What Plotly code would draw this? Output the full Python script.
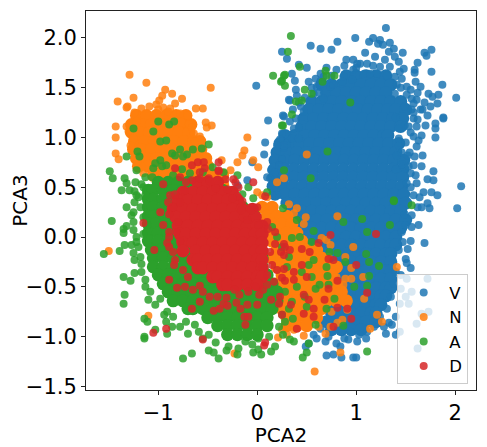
import plotly.graph_objects as go

NAMES = ["V", "N", "A", "D"]
COLORS = ["#1f77b4", "#ff7f0e", "#2ca02c", "#d62728"]

# dense middle of each cloud, one x list per y row
V_CORE_Y = [1.62, 1.53, 1.45, 1.36, 1.28, 1.19, 1.11, 1.02, 0.94, 0.85, 0.77, 0.68, 0.60, 0.51, 0.43, 0.34,
            0.26, 0.17, 0.09, 0.0, -0.08, -0.17, -0.25, -0.34, -0.42, -0.51, -0.59, -0.68, -0.76, -0.85, -0.93]
V_CORE_X = [
    [0.90, 1.00, 1.10, 1.20, 1.30],
    [0.65, 0.75, 0.85, 0.95, 1.05, 1.15, 1.25, 1.35],
    [0.70, 0.80, 0.90, 1.00, 1.10, 1.20, 1.30],
    [0.55, 0.65, 0.75, 0.85, 0.95, 1.05, 1.15, 1.25, 1.35, 1.45],
    [0.52, 0.62, 0.72, 0.82, 0.92, 1.02, 1.12, 1.22, 1.32, 1.40, 1.50],
    [0.47, 0.57, 0.67, 0.77, 0.87, 0.97, 1.07, 1.17, 1.27, 1.37, 1.47],
    [0.45, 0.55, 0.65, 0.75, 0.85, 0.95, 1.05, 1.15, 1.25, 1.35, 1.45],
    [0.28, 0.38, 0.48, 0.58, 0.68, 0.78, 0.88, 0.98, 1.08, 1.18, 1.28, 1.32],
    [0.23, 0.33, 0.43, 0.53, 0.63, 0.73, 0.83, 0.93, 1.03, 1.13, 1.23, 1.33, 1.43],
    [0.20, 0.30, 0.40, 0.50, 0.60, 0.70, 0.80, 0.90, 1.00, 1.10, 1.20, 1.30, 1.40],
    [0.18, 0.28, 0.38, 0.48, 0.58, 0.68, 0.78, 0.88, 0.98, 1.08, 1.18, 1.28, 1.38, 1.48],
    [0.17, 0.27, 0.37, 0.47, 0.57, 0.67, 0.77, 0.87, 0.97, 1.07, 1.17, 1.27, 1.37, 1.47],
    [0.17, 0.27, 0.37, 0.47, 0.57, 0.67, 0.77, 0.87, 0.97, 1.07, 1.17, 1.27, 1.37, 1.47],
    [0.16, 0.26, 0.36, 0.46, 0.56, 0.66, 0.76, 0.86, 0.96, 1.06, 1.16, 1.26, 1.36, 1.46],
    [0.18, 0.28, 0.38, 0.48, 0.58, 0.68, 0.78, 0.88, 0.98, 1.08, 1.18, 1.28, 1.38, 1.48],
    [0.30, 0.40, 0.50, 0.60, 0.70, 0.80, 0.90, 1.00, 1.10, 1.20, 1.30, 1.40, 1.50],
    [0.35, 0.45, 0.55, 0.65, 0.75, 0.85, 0.95, 1.05, 1.15, 1.25, 1.35, 1.45],
    [0.40, 0.50, 0.60, 0.70, 0.80, 0.90, 1.00, 1.10, 1.20, 1.30, 1.40, 1.50],
    [0.45, 0.55, 0.65, 0.75, 0.85, 0.95, 1.05, 1.15, 1.25, 1.35, 1.45],
    [0.50, 0.60, 0.70, 0.80, 0.90, 1.00, 1.10, 1.20, 1.30, 1.40],
    [0.55, 0.65, 0.75, 0.85, 0.95, 1.05, 1.15, 1.25, 1.35, 1.40],
    [0.60, 0.70, 0.80, 0.90, 1.00, 1.10, 1.20, 1.30, 1.35],
    [0.65, 0.75, 0.85, 0.95, 1.05, 1.15, 1.25, 1.35],
    [0.70, 0.80, 0.90, 1.00, 1.10, 1.20, 1.30, 1.35],
    [0.75, 0.85, 0.95, 1.05, 1.15, 1.25, 1.35],
    [0.80, 0.90, 1.00, 1.10, 1.20, 1.30, 1.35],
    [0.75, 0.85, 0.95, 1.05, 1.15, 1.25, 1.30],
    [0.70, 0.80, 0.90, 1.00, 1.10, 1.20, 1.25],
    [0.75, 0.85, 0.95, 1.05, 1.15, 1.20],
    [0.70, 0.80, 0.90, 1.00, 1.10, 1.20],
    [0.75, 0.85, 0.95, 1.05],
]

N_CORE_Y = [1.22, 1.13, 1.05, 0.96, 0.88, 0.79, 0.71, 0.62, 0.53,
            0.30, 0.21, 0.13, 0.04, -0.04, -0.13, -0.21, -0.30, -0.38, -0.47, -0.55, -0.64, -0.72, -0.81, -0.89]
N_CORE_X = [
    [-1.22, -1.12, -1.02, -0.92, -0.82, -0.72],
    [-1.27, -1.17, -1.07, -0.97, -0.87, -0.77, -0.67],
    [-1.27, -1.19, -1.09, -0.99, -0.89, -0.79, -0.69],
    [-1.24, -1.14, -1.04, -0.94, -0.84, -0.74, -0.64, -0.58],
    [-1.25, -1.17, -1.07, -0.97, -0.87, -0.77, -0.67, -0.57],
    [-1.22, -1.12, -1.02, -0.92, -0.82, -0.72, -0.62, -0.52],
    [-1.20, -1.10, -1.00, -0.90, -0.80, -0.70, -0.60, -0.50],
    [-1.05, -0.95, -0.85, -0.75, -0.65, -0.55, -0.45, -0.35],
    [-0.95, -0.85, -0.75, -0.65, -0.55, -0.45, -0.35],
    [0.05, 0.15],
    [0.10, 0.20, 0.30],
    [0.05, 0.15, 0.25, 0.35],
    [0.10, 0.20, 0.30, 0.40],
    [0.15, 0.25, 0.35, 0.45],
    [0.20, 0.30, 0.40, 0.50, 0.60],
    [0.15, 0.25, 0.35, 0.45, 0.55, 0.65],
    [0.20, 0.30, 0.40, 0.50, 0.60, 0.70, 0.80],
    [0.25, 0.35, 0.45, 0.55, 0.65, 0.75],
    [0.20, 0.30, 0.40, 0.50, 0.60, 0.70, 0.80],
    [0.25, 0.35, 0.45, 0.55, 0.65, 0.75, 0.85],
    [0.30, 0.40, 0.50, 0.60, 0.70, 0.80, 0.90],
    [0.25, 0.35, 0.45, 0.55, 0.65],
    [0.30, 0.40, 0.50, 0.60],
    [0.30, 0.40, 0.50],
]

A_CORE_Y = [0.55, 0.47, 0.38, 0.30, 0.21, 0.13, 0.04, -0.04, -0.13, -0.21, -0.30, -0.38, -0.47, -0.55,
            -0.64, -0.72, -0.81, -0.89, -0.98]
A_CORE_X = [
    [-1.00, -0.90, -0.80, -0.70, -0.60, -0.50],
    [-1.10, -1.05, -0.95, -0.85, -0.75, -0.65, -0.55, -0.45, -0.35],
    [-1.10, -1.05, -0.95, -0.85, -0.75, -0.65, -0.55, -0.45, -0.35, -0.25],
    [-1.10, -1.05, -0.95, -0.85, -0.75, -0.65, -0.55, -0.45, -0.35, -0.25, -0.15],
    [-1.10, -1.03, -0.93, -0.83, -0.73, -0.63, -0.53, -0.43, -0.33, -0.23, -0.13, -0.03],
    [-1.10, -1.03, -0.93, -0.83, -0.73, -0.63, -0.53, -0.43, -0.33, -0.23, -0.13, -0.03],
    [-1.10, -1.00, -0.90, -0.80, -0.70, -0.60, -0.50, -0.40, -0.30, -0.20, -0.10, 0.0],
    [-1.10, -1.00, -0.90, -0.80, -0.70, -0.60, -0.50, -0.40, -0.30, -0.20, -0.10, 0.0],
    [-1.07, -0.97, -0.87, -0.77, -0.67, -0.57, -0.47, -0.37, -0.27, -0.17, -0.07, 0.03],
    [-1.05, -0.95, -0.85, -0.75, -0.65, -0.55, -0.45, -0.35, -0.25, -0.15, -0.05, 0.05],
    [-1.05, -0.95, -0.85, -0.75, -0.65, -0.55, -0.45, -0.35, -0.25, -0.15, -0.05, 0.05],
    [-1.00, -0.90, -0.80, -0.70, -0.60, -0.50, -0.40, -0.30, -0.20, -0.10, 0.0, 0.10],
    [-0.95, -0.85, -0.75, -0.65, -0.55, -0.45, -0.35, -0.25, -0.15, -0.05, 0.05, 0.15],
    [-0.90, -0.80, -0.70, -0.60, -0.50, -0.40, -0.30, -0.20, -0.10, 0.0, 0.10, 0.20],
    [-0.85, -0.75, -0.65, -0.55, -0.45, -0.35, -0.25, -0.15, -0.05, 0.05, 0.15, 0.20],
    [-0.70, -0.65, -0.55, -0.45, -0.35, -0.25, -0.15, -0.05, 0.05, 0.15],
    [-0.50, -0.40, -0.30, -0.20, -0.10, 0.0, 0.10],
    [-0.40, -0.30, -0.20, -0.10, 0.0, 0.10],
    [-0.30, -0.20, -0.10, 0.0],
]

D_CORE_Y = [0.55, 0.45, 0.37, 0.28, 0.20, 0.11, 0.03, -0.06, -0.14, -0.23, -0.31, -0.40, -0.48]
D_CORE_X = [
    [-0.60, -0.50, -0.40],
    [-0.75, -0.65, -0.55, -0.45, -0.35, -0.25],
    [-0.80, -0.70, -0.60, -0.50, -0.40, -0.30, -0.20],
    [-0.85, -0.75, -0.65, -0.55, -0.45, -0.35, -0.25, -0.15, -0.05],
    [-0.82, -0.72, -0.62, -0.52, -0.42, -0.32, -0.22, -0.12, -0.02],
    [-0.80, -0.70, -0.60, -0.50, -0.40, -0.30, -0.20, -0.10, 0.0, 0.05],
    [-0.78, -0.72, -0.62, -0.52, -0.42, -0.32, -0.22, -0.12, -0.02, 0.05],
    [-0.75, -0.65, -0.55, -0.45, -0.35, -0.25, -0.15, -0.05, 0.05],
    [-0.75, -0.62, -0.52, -0.42, -0.32, -0.22, -0.12, -0.02, 0.05],
    [-0.65, -0.60, -0.50, -0.40, -0.30, -0.20, -0.10, 0.0, 0.05],
    [-0.60, -0.55, -0.45, -0.35, -0.25, -0.15, -0.05, 0.05],
    [-0.45, -0.40, -0.30, -0.20, -0.10, 0.0, 0.05],
    [-0.35, -0.30, -0.20, -0.10, 0.0],
]

V_POINTS = [
    (1.30, 2.10), (0.99, 2.00), (0.81, 1.96), (0.54, 1.92), (0.64, 1.89), (0.75, 1.88), (0.25, 1.86), (0.30, 1.79),
    (1.17, 2.00), (1.13, 1.96), (1.24, 1.98), (1.34, 1.95), (1.09, 1.85), (1.47, 1.85), (1.69, 1.85), (1.76, 1.88),
    (1.71, 1.82), (1.62, 1.75), (1.59, 1.68), (1.59, 1.65), (1.76, 1.66), (1.87, 1.53), (2.01, 1.40), (1.60, 1.56),
    (1.65, 1.51), (1.73, 1.44), (1.83, 1.43), (1.77, 1.41), (1.69, 1.35), (1.82, 1.34), (1.75, 1.31), (1.67, 1.28),
    (1.72, 1.22), (1.88, 1.20), (1.88, 1.19), (1.80, 1.14), (1.80, 1.09), (1.70, 1.12), (1.58, 1.01), (1.66, 1.02),
    (1.80, 1.00), (1.63, 0.97), (1.61, 0.91), (1.54, 0.85), (1.67, 0.82), (1.59, 0.81), (1.66, 0.71), (1.78, 0.66),
    (1.72, 0.58), (1.78, 0.57), (2.06, 0.51), (1.68, 0.45), (1.76, 0.45), (1.82, 0.42), (1.64, 0.40), (1.61, 0.54),
    (1.60, 0.62), (1.55, 0.64), (1.51, 0.54), (1.49, 0.69), (0.35, 1.64), (0.38, 1.57), (0.50, 1.70), (0.42, 1.73),
    (0.39, 1.48), (0.32, 1.38), (0.27, 1.21), (0.39, 1.19), (0.37, 1.09), (0.42, 1.10), (0.30, 1.03), (0.52, 1.56),
    (0.64, 1.64), (0.80, 1.68), (0.88, 1.72), (0.90, 1.78), (0.97, 1.78), (1.01, 1.74), (0.97, 1.68), (0.87, 1.61),
    (0.60, 1.51), (0.74, 1.51), (1.22, 1.94), (1.27, 1.93), (1.38, 1.89), (1.33, 1.86), (1.39, 1.81), (1.29, 1.78),
    (1.43, 1.76), (1.19, 1.81), (1.04, 1.74), (1.11, 1.74), (1.17, 1.72), (1.24, 1.71), (1.34, 1.71), (1.44, 1.66),
    (1.48, 1.69), (1.08, 1.64), (1.14, 1.64), (1.21, 1.64), (1.31, 1.62), (1.39, 1.61), (1.46, 1.59), (1.51, 1.51),
    (1.41, 1.53), (1.39, 1.44), (1.51, 1.43), (1.56, 1.39), (1.61, 1.38), (1.58, 1.34), (1.65, 1.28), (1.56, 1.28),
    (1.49, 1.31), (1.58, 1.19), (1.49, 1.12), (1.43, 1.09), (1.61, 1.11), (1.53, 1.11), (0.96, 1.58), (0.64, 1.57),
    (0.59, 1.59), (0.67, 1.61), (0.77, 1.53), (0.86, 1.56), (0.57, 1.44), (0.67, 1.39), (0.44, 1.31), (0.47, 1.26),
    (0.33, 1.37), (0.33, 1.16), (0.30, 0.94), (0.35, 0.99), (0.42, 0.99), (0.27, 0.90), (0.25, 1.04), (1.43, 0.92),
    (1.46, 0.85), (1.41, 0.82), (1.46, 0.73), (1.53, 0.71), (1.40, 0.68), (1.43, 0.99), (1.40, 1.20),
    (-0.01, 1.52), (0.11, 1.17), (0.26, 1.22), (0.23, 0.98), (0.08, 0.95), (0.07, 0.83), (0.27, 0.92), (0.20, 0.92),
    (-0.05, 0.75), (0.14, 0.67), (0.13, 0.59), (0.18, 0.65), (0.10, 0.60), (0.25, 0.78), (0.21, 0.55), (0.16, 0.54),
    (-0.10, 0.57), (-0.20, 0.52), (0.17, 0.50), (0.20, 0.42), (0.15, 0.42), (0.22, 0.72), (0.25, 0.62),
    (2.02, 0.29), (1.74, 0.29), (1.66, 0.30), (1.72, 0.34), (1.63, 0.12), (1.69, -0.06), (1.55, -0.04), (1.47, -0.05),
    (1.50, -0.22), (1.51, -0.26), (1.55, -0.31), (1.72, -0.42), (1.51, -0.42), (1.49, 0.23), (1.56, 0.22), (1.56, -0.55),
    (1.50, -0.60), (1.53, -0.67), (1.44, -0.67), (1.73, -0.75), (1.66, -0.77), (1.61, -0.87), (1.44, -0.95), (1.40, -0.98),
    (1.30, -0.97), (1.62, -1.12), (1.40, -0.80), (1.33, -0.86), (1.24, -0.80), (1.03, -0.98), (1.01, -1.05), (0.92, -1.03),
    (0.80, -1.07), (0.84, -1.10), (0.69, -1.05), (0.52, -1.07), (0.49, -1.10), (0.70, -1.19), (0.77, -1.18), (0.85, -1.21),
    (0.97, -1.21), (1.00, -1.21), (0.57, -0.98), (0.64, -0.92), (0.94, -0.95), (1.11, -0.95), (1.18, -0.90),
    (1.43, -0.13), (1.40, -0.35), (1.38, -0.47), (1.35, -0.60), (1.31, -0.72), (1.46, 0.05), (1.50, 0.12),
    (0.55, 1.50), (0.62, 1.45), (0.48, 1.40), (0.42, 1.35), (0.36, 1.28), (0.40, 1.42), (0.70, 1.70), (0.75, 1.62),
    (1.00, 1.70), (1.45, 1.50), (1.55, 1.48), (1.62, 1.45), (1.58, 1.25), (1.62, 1.18), (1.55, 1.05), (1.50, 0.95),
    (1.52, 0.82), (1.58, 0.72), (1.55, 0.50), (1.62, 0.30), (1.58, 0.42), (1.56, 0.10), (1.52, -0.12), (1.45, -0.38),
    (1.45, -0.52), (1.36, -0.88), (1.28, -0.90), (1.10, -1.02), (0.88, -1.02), (0.72, -1.00), (0.60, -1.02),
]

N_POINTS = [
    (-1.29, 1.63), (-1.12, 1.55), (-1.41, 1.36), (-1.25, 1.40), (-1.32, 1.30), (-1.31, 1.31), (-0.93, 1.48), (-0.86, 1.44),
    (-0.99, 1.37), (-0.96, 1.42), (-0.83, 1.34), (-0.76, 1.39), (-0.47, 1.50), (-0.62, 1.29), (-0.55, 1.29), (-1.43, 1.11),
    (-1.43, 1.00), (-1.43, 0.84), (-1.40, 0.78), (-1.32, 1.11), (-1.30, 1.06), (-1.25, 0.99), (-1.28, 0.92), (-0.52, 1.15),
    (-0.46, 1.12), (-0.51, 1.10), (-0.58, 1.01), (-0.10, 1.00), (-0.13, 0.87), (-0.15, 0.82), (-0.20, 0.75), (-0.04, 0.77),
    (0.01, 0.70), (-0.27, 0.67), (-0.36, 0.77), (-1.09, 1.31), (-1.24, 1.25), (-1.17, 1.29), (-0.88, 1.29), (-0.78, 1.24),
    (-0.69, 1.13), (-0.66, 1.10), (-0.64, 1.04), (-0.63, 0.96), (-0.59, 0.85), (-1.17, 0.71), (-1.21, 0.76), (-1.15, 0.64),
    (-1.02, 1.33), (-1.00, 1.28), (-0.95, 1.30), (-0.90, 1.26), (-1.22, 1.16), (-0.70, 1.22), (-0.60, 0.72), (-0.55, 0.65),
    (0.81, 0.21), (0.97, -0.10), (1.41, -0.30), (1.07, -0.40), (0.92, -0.65), (1.08, -0.62), (1.21, -0.78), (1.26, -0.85),
    (1.14, -0.92), (0.58, -1.35), (0.84, -1.16), (0.47, -0.99), (0.69, -0.97), (0.86, -0.83), (0.91, -0.73), (0.89, -0.20),
    (0.95, -0.31), (0.89, -0.42), (0.95, -0.42), (0.82, -0.55), (0.87, -0.48), (0.74, -0.08), (0.65, -0.01), (0.32, 0.33),
    (0.40, 0.29), (0.37, 0.24), (0.49, 0.20), (0.47, 0.13), (0.70, -0.03), (0.74, -0.90), (0.37, -0.93), (0.81, -0.86),
    (0.50, 0.83), (0.27, 0.59), (0.20, 0.55), (0.05, 0.42), (0.10, 0.40), (0.00, 0.45), (0.60, -0.10), (0.68, -0.30),
    (-1.50, -0.14), (-1.10, -0.79), (-0.23, -1.17), (0.21, -1.01), (0.25, -0.93), (0.01, -0.95), (0.10, -0.82),
    (0.75, -0.75), (0.80, -0.40), (0.72, -0.20), (0.62, -0.90), (0.30, -0.98),
]

A_POINTS = [
    (-1.49, 0.66), (-1.46, 0.59), (-1.32, 0.81), (-1.25, 1.09), (-1.05, 1.06), (-1.00, 1.16), (-0.89, 1.13), (-0.84, 1.16),
    (-0.98, 0.96), (-0.92, 0.97), (-0.78, 0.88), (-0.65, 0.88), (-0.56, 0.89), (-0.49, 0.93), (-0.86, 0.84), (-0.83, 0.82),
    (-0.71, 0.83), (-0.75, 0.81), (-0.98, 0.77), (-1.21, 0.86), (-1.19, 0.81), (-1.05, 0.69), (-1.03, 0.74), (-0.96, 0.71),
    (-0.92, 0.72), (-1.22, 0.67), (-1.34, 0.59), (-1.32, 0.54), (-1.23, 0.55), (-1.37, 0.47), (-1.29, 0.47), (-1.24, 0.46),
    (-1.17, 0.53), (-1.13, 0.60), (-1.06, 0.60), (-0.76, 0.68), (-0.68, 0.64), (-0.45, 0.70), (-0.34, 0.65), (-0.30, 0.47),
    (-0.15, 0.43), (-0.09, 0.50), (-0.04, 0.39), (0.10, 0.45), (-0.85, 0.62),
    (0.34, 2.02), (0.31, 1.86), (0.43, 1.71), (0.28, 1.63), (0.24, 1.56), (0.28, 1.52), (0.48, 1.48), (0.55, 1.44),
    (0.39, 1.36), (0.45, 1.37), (0.35, 1.23), (0.26, 1.12), (0.69, 1.67), (0.70, 1.62), (0.66, 1.56), (0.78, 1.62),
    (0.94, 1.35), (0.71, 0.86), (0.54, 0.59), (0.27, 0.67), (1.38, 0.37), (0.16, 1.62), (0.25, 1.57), (0.27, 1.62),
    (0.25, 1.12), (-1.47, 0.16), (-1.32, 0.30), (-1.24, 0.35), (-1.35, 0.08), (-1.35, 0.04), (-1.32, 0.11), (-1.25, 0.07),
    (-1.22, 0.00), (-1.34, -0.08), (-1.27, -0.08), (-1.39, -0.14), (-1.55, -0.17), (-1.25, -0.16), (-1.24, -0.23),
    (-1.35, -0.40), (-1.28, -0.44), (-1.24, -0.36), (-1.34, -0.58), (-1.35, -0.67), (-1.14, -0.82), (-1.11, -0.85),
    (-1.03, -0.93), (-1.14, -1.00), (-1.14, -1.02), (-0.91, -0.97), (-0.94, -0.78), (-0.92, -0.85), (-0.86, -0.90),
    (-0.75, -1.22), (-0.66, -1.17), (-0.49, -1.14), (-0.44, -1.16), (-0.39, -1.22), (-0.31, -1.14), (-0.20, -1.18),
    (-0.04, -1.16), (0.04, -1.18), (0.01, -1.13), (0.14, -1.15), (0.18, -1.10), (-0.19, -1.12), (-0.29, -1.10),
    (-0.12, -1.05), (0.01, -1.02), (-0.70, -0.97), (-0.59, -0.95), (-0.49, -0.98), (-0.78, -0.90), (-0.63, -0.88),
    (-1.13, -0.50), (-1.10, -0.63), (-1.03, -0.68), (-0.91, -0.75), (-1.17, -0.35), (-1.13, -0.43), (-1.17, -0.27),
    (-1.20, -0.10), (-1.15, 0.03), (-1.11, 0.12), (-1.27, 0.22), (-1.25, 0.15), (-1.18, 0.30), (-1.15, 0.20), (-1.13, 0.42),
    (-1.20, 0.40), (-1.15, 0.50), (1.56, 0.32), (1.34, 0.12), (1.06, 0.18), (0.87, 0.15), (0.57, 0.06), (1.11, 0.05),
    (1.10, -0.17), (1.13, -0.25), (1.23, -0.29), (1.13, -0.39), (1.11, -0.49), (0.98, -0.50), (0.89, -0.25), (0.81, -0.16),
    (0.73, -0.15), (0.70, -0.30), (0.71, -0.39), (0.59, -0.52), (0.63, -0.48), (0.72, -0.48), (0.78, -0.62), (0.70, -0.72),
    (0.87, -0.89), (0.59, -0.88), (1.11, -1.15), (0.50, -1.16), (0.46, -1.21), (0.52, -1.07), (0.37, -1.05), (0.33, -1.03),
    (0.26, -0.98), (1.38, 0.36), (0.57, -0.23), (0.52, -0.28), (0.35, -0.01), (0.43, 0.00), (0.40, 0.17), (0.26, 0.29),
    (0.55, -0.05), (0.45, -0.35), (0.40, -0.50), (0.50, -0.70), (0.35, -0.65), (0.30, -0.30), (0.32, -0.20), (0.25, -0.10),
    (0.28, -0.55), (0.36, -0.82), (0.25, -0.78), (0.22, -0.90), (0.48, -0.60), (0.55, -0.40), (0.15, 0.10), (0.20, 0.00),
    (-1.22, 0.42), (-1.25, 0.25), (-1.22, -0.05), (-1.18, -0.20), (-1.08, -0.55), (-0.98, -0.62), (-0.85, -0.80),
    (-0.72, -0.85), (-0.55, -1.02), (-0.42, -1.06), (-0.05, -1.08), (0.12, -1.00), (0.28, -0.85), (0.32, -0.72),
    (-0.20, 0.62), (-0.55, 0.65), (-0.40, 0.55),
]

D_POINTS = [
    (-0.98, 0.25), (-1.15, 0.14), (-0.89, 0.23), (-1.04, -0.13), (-0.91, -0.06), (-0.89, -0.10), (-0.89, 0.05), (-0.89, 0.00),
    (-0.78, -0.04), (-0.83, -0.23), (-0.84, -0.28), (-0.75, -0.33), (-0.89, -0.43), (-0.81, -0.51), (-0.73, -0.50),
    (-0.65, -0.53), (-0.58, -0.49), (-0.48, -0.60), (-0.58, -0.65), (-0.66, -0.72), (-0.44, -0.74), (-0.38, -0.72),
    (-0.34, -0.67), (-0.31, -0.61), (-0.30, -0.69), (-0.21, -0.66), (-0.17, -0.72), (-0.10, -0.68), (0.00, -0.68),
    (-0.13, -0.80), (-0.09, -0.80), (-0.12, -0.88), (-1.05, -0.96), (-0.92, -0.92), (-0.55, -1.03), (0.07, -1.09),
    (0.08, -1.06), (0.14, -0.63), (0.23, -0.60), (0.22, -0.67), (0.25, -0.78), (-0.23, -0.53), (-0.09, -0.55),
    (-0.02, -0.50), (0.06, -0.53), (0.10, -0.48), (0.25, -0.41), (0.20, -0.33), (0.10, -0.38), (0.13, -0.15), (0.24, -0.15),
    (0.18, -0.07), (0.28, -0.10), (0.11, 0.08), (0.01, 0.12), (-0.10, 0.17), (-0.06, 0.27), (-0.16, 0.27),
    (0.74, 0.02), (0.62, -0.06), (1.20, 0.03), (1.00, -0.28), (1.11, -0.56), (0.81, -0.44), (0.72, -0.52), (0.91, -0.72),
    (0.95, -0.82), (0.81, -0.71), (0.68, -0.63), (0.57, -0.72), (0.57, -0.80), (0.47, -0.77), (0.47, -0.58), (0.52, -0.63),
    (0.34, -0.68), (0.77, -0.23), (0.72, -0.22), (0.45, -0.12), (0.53, -0.15), (0.45, -0.28), (0.37, -0.35), (0.50, -0.40),
    (0.37, -0.43), (0.28, -0.44), (0.27, -0.32), (0.27, -0.07), (0.27, -0.18), (0.33, -0.13), (0.40, -0.92), (0.77, -0.90),
    (-0.83, 0.69), (-0.66, 0.72), (-0.60, 0.75), (-0.54, 0.75), (-0.39, 0.75), (-0.39, 0.67), (-0.53, 0.69), (-0.58, 0.65),
    (-0.78, 0.60), (-0.95, 0.53), (-0.66, 0.57), (-0.58, 0.59), (-0.49, 0.59), (-0.39, 0.66), (-0.32, 0.58), (-0.39, 0.53),
    (-0.22, 0.55), (-0.04, 0.55), (0.08, 0.41), (-0.24, 0.58), (-0.19, 0.50), (-0.42, 0.49), (-0.73, 0.47), (-0.88, 0.42),
    (-0.83, 0.43), (-0.20, 0.41), (-0.25, 0.39), (-0.48, 0.56), (-0.78, 0.35), (-0.85, 0.30), (-0.80, 0.15), (-0.82, 0.05),
    (-0.95, 0.12), (-0.90, 0.35), (-0.72, 0.55), (-0.30, 0.48), (-0.15, 0.36), (0.00, 0.30), (0.10, 0.15), (0.18, 0.05),
    (0.15, -0.28), (0.02, -0.58), (-0.18, -0.58), (-0.40, -0.60), (-0.55, -0.55), (-0.70, -0.40), (-0.85, -0.15),
    (0.05, -0.30), (0.17, -0.45),
]

X_TICKS = [-1, 0, 1, 2]
Y_TICKS = [-1.5, -1.0, -0.5, 0.0, 0.5, 1.0, 1.5, 2.0]


def flatten_rows(ys, xs):
    out_x, out_y = [], []
    for y, row in zip(ys, xs):
        out_x += row
        out_y += [y] * len(row)
    return out_x, out_y


fig = go.Figure()

clouds = [
    (V_CORE_Y, V_CORE_X, V_POINTS),
    (N_CORE_Y, N_CORE_X, N_POINTS),
    (A_CORE_Y, A_CORE_X, A_POINTS),
    (D_CORE_Y, D_CORE_X, D_POINTS),
]

for name, color, (core_y, core_x, points) in zip(NAMES, COLORS, clouds):
    cx, cy = flatten_rows(core_y, core_x)
    fig.add_trace(go.Scatter(
        x=cx, y=cy, mode="markers", showlegend=False, hoverinfo="skip",
        marker=dict(color=color, size=13, line=dict(width=0)),
    ))
    fig.add_trace(go.Scatter(
        x=[p[0] for p in points], y=[p[1] for p in points], mode="markers", name=name,
        marker=dict(color=color, size=8, opacity=0.85, line=dict(width=0)),
    ))

axis = dict(
    showgrid=False, zeroline=False, showline=True, mirror=True, linecolor="#222222", linewidth=1,
    ticks="outside", ticklen=4, tickcolor="#222222", automargin=False,
    tickfont=dict(size=21, color="black"),
)

# the page body keeps its default 8px margin, so the figure is 8px smaller than the window
fig.update_layout(
    width=479,
    height=439,
    paper_bgcolor="white",
    plot_bgcolor="white",
    font=dict(family="DejaVu Sans", color="black"),
    margin=dict(l=77.5, r=11, t=2.5, b=57, pad=0),
    xaxis=dict(axis, range=[-1.73, 2.21], tickvals=X_TICKS,
               title=dict(text="PCA2", font=dict(size=20), standoff=2)),
    yaxis=dict(axis, range=[-1.536, 2.27], tickvals=Y_TICKS, tickformat=".1f",
               title=dict(text="PCA3", font=dict(size=20), standoff=12)),
    legend=dict(
        x=0.98, y=0.015, xanchor="right", yanchor="bottom",
        bgcolor="rgba(255,255,255,0.8)", bordercolor="#cccccc", borderwidth=1,
        font=dict(size=16.5), itemwidth=41, tracegroupgap=0,
    ),
)

fig.write_html("out.html")
